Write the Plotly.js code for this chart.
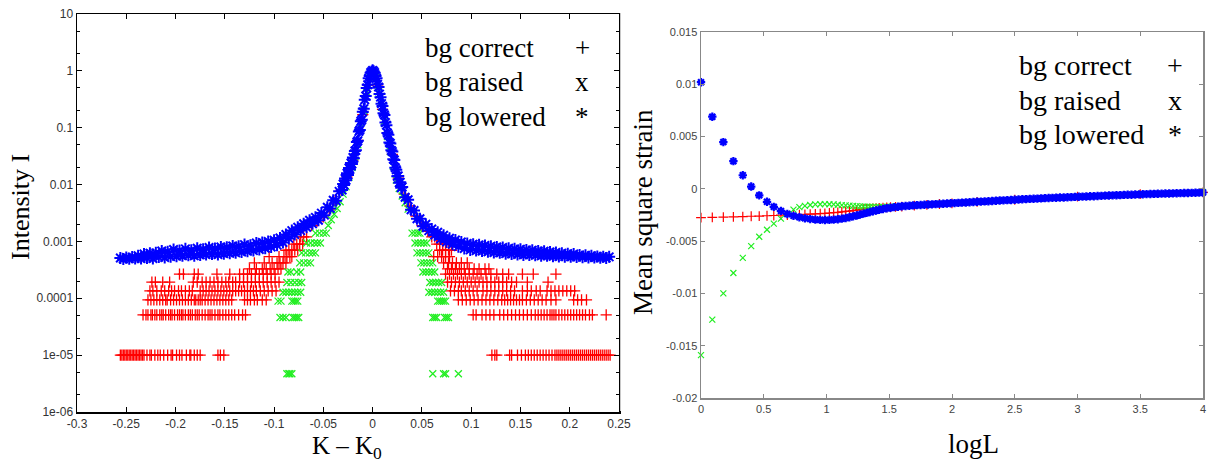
<!DOCTYPE html>
<html><head><meta charset="utf-8">
<script src="https://cdn.plot.ly/plotly-3.0.1.min.js"></script>
<style>html,body{margin:0;padding:0;background:#fff}</style>
</head><body><div id="chart" style="width:1215px;height:462px"></div>
<script>
// ---------- LEFT PANEL: Intensity vs K-K0 (log y) ----------
const leftXTickVals = [-0.3,-0.25,-0.2,-0.15,-0.1,-0.05,0,0.05,0.1,0.15,0.2,0.25];
const leftXTickText = ['-0.3','-0.25','-0.2','-0.15','-0.1','-0.05','0','0.05','0.1','0.15','0.2','0.25'];
const leftYTickVals = [10,1,0.1,0.01,0.001,0.0001,1e-5,1e-6];
const leftYTickText = ['10','1','0.1','0.01','0.001','0.0001','1e-05','1e-06'];
const leftYMinor = [5,2,0.5,0.2,0.05,0.02,0.005,0.002,5e-4,2e-4,5e-5,2e-5,5e-6,2e-6];

// bg lowered (*), blue
const blueKX = [
-0.256,-0.253,-0.250,-0.247,-0.244,-0.241,-0.238,-0.235,-0.232,-0.229,
-0.226,-0.223,-0.220,-0.217,-0.214,-0.211,-0.208,-0.205,-0.202,-0.199,
-0.196,-0.193,-0.190,-0.187,-0.184,-0.181,-0.178,-0.175,-0.172,-0.169,
-0.166,-0.163,-0.160,-0.157,-0.154,-0.151,-0.148,-0.145,-0.142,-0.139,
-0.136,-0.133,-0.130,-0.127,-0.124,-0.121,-0.118,-0.115,-0.112,-0.109,
-0.106,-0.103,-0.100,-0.097,-0.094,-0.091,-0.088,-0.085,-0.082,-0.079,
-0.076,-0.073,-0.070,-0.067,-0.064,-0.061,-0.058,-0.055,-0.052,-0.049,
-0.046,-0.043,-0.040,-0.037,-0.034,-0.031,
-0.030,-0.029,-0.028,-0.027,-0.026,-0.025,-0.024,-0.023,-0.022,-0.021,
-0.020,-0.019,-0.018,-0.017,-0.016,-0.015,-0.014,-0.013,-0.012,-0.011,
-0.010,-0.009,-0.008,-0.007,-0.006,-0.005,-0.004,-0.003,-0.002,-0.001,
0.000,
0.001,0.002,0.003,0.004,0.005,0.006,0.007,0.008,0.009,0.010,
0.011,0.012,0.013,0.014,0.015,0.016,0.017,0.018,0.019,0.020,
0.021,0.022,0.023,0.024,0.025,0.026,0.027,0.028,0.029,0.030,
0.033,0.036,0.039,0.042,0.045,0.048,0.051,0.054,0.057,0.060,
0.063,0.066,0.069,0.072,0.075,0.078,0.081,0.084,0.087,0.090,
0.093,0.096,0.099,0.102,0.105,0.108,0.111,0.114,0.117,0.120,
0.123,0.126,0.129,0.132,0.135,0.138,0.141,0.144,0.147,0.150,
0.153,0.156,0.159,0.162,0.165,0.168,0.171,0.174,0.177,0.180,
0.183,0.186,0.189,0.192,0.195,0.198,0.201,0.204,0.207,0.210,
0.213,0.216,0.219,0.222,0.225,0.228,0.231,0.234,0.237,0.240];
const blueKY = [
5.1e-4,4.9e-4,5.2e-4,4.95e-4,5.3e-4,5.0e-4,5.6e-4,5.0e-4,6.0e-4,5.1e-4,
6.2e-4,5.0e-4,6.3e-4,5.3e-4,6.8e-4,5.2e-4,6.6e-4,5.4e-4,7.2e-4,5.5e-4,
6.9e-4,5.6e-4,7.4e-4,5.7e-4,7.0e-4,5.6e-4,7.6e-4,5.8e-4,7.3e-4,5.9e-4,
7.8e-4,6.0e-4,7.5e-4,5.9e-4,8.0e-4,6.1e-4,7.9e-4,6.2e-4,8.3e-4,6.3e-4,
8.2e-4,6.5e-4,8.8e-4,6.7e-4,8.6e-4,6.9e-4,9.4e-4,7.2e-4,9.6e-4,7.6e-4,
1.0e-3,8.0e-4,1.05e-3,8.6e-4,1.15e-3,9.6e-4,1.32e-3,1.13e-3,1.55e-3,1.32e-3,
1.78e-3,1.55e-3,2.05e-3,1.78e-3,2.35e-3,2.05e-3,2.65e-3,2.35e-3,3.15e-3,2.9e-3,
4.0e-3,3.8e-3,5.3e-3,5.2e-3,7.6e-3,8.0e-3,
0.0102,0.0098,0.0128,0.0119,0.0158,0.0147,0.0195,0.0185,0.024,0.023,
0.030,0.029,0.039,0.040,0.056,0.059,0.086,0.091,0.13,0.138,
0.19,0.215,0.31,0.36,0.50,0.57,0.74,0.81,0.93,0.97,
1.02,
0.98,0.93,0.81,0.74,0.58,0.52,0.39,0.345,0.265,0.24,
0.18,0.168,0.123,0.111,0.081,0.075,0.055,0.053,0.040,0.038,
0.028,0.027,0.0198,0.0182,0.014,0.0142,0.0108,0.011,0.0088,0.0091,
0.0060,0.0054,0.0036,0.0035,0.0025,0.0025,0.00185,0.0020,0.00155,0.00165,
0.0013,0.00145,0.0011,0.00128,9.8e-4,1.14e-3,8.9e-4,1.06e-3,8.1e-4,9.8e-4,
7.5e-4,9.2e-4,7.1e-4,8.9e-4,6.9e-4,8.7e-4,6.8e-4,8.5e-4,6.6e-4,8.2e-4,
6.4e-4,8.0e-4,6.3e-4,7.8e-4,6.1e-4,7.6e-4,6.0e-4,7.4e-4,5.9e-4,7.3e-4,
5.8e-4,7.1e-4,5.8e-4,7.0e-4,5.7e-4,6.8e-4,5.6e-4,6.7e-4,5.6e-4,6.5e-4,
5.5e-4,6.4e-4,5.45e-4,6.2e-4,5.4e-4,6.1e-4,5.35e-4,6.0e-4,5.3e-4,5.8e-4,
5.25e-4,5.7e-4,5.2e-4,5.6e-4,5.2e-4,5.45e-4,5.15e-4,5.4e-4,5.1e-4,5.35e-4];

// bg correct (+), red: quantised intensity levels and the K positions found on each level
const redLevels = [1e-5, 5.1e-5, 9.4e-5, 1.35e-4, 1.93e-4, 2.66e-4, 3.3e-4, 4.2e-4, 5.4e-4, 7e-4, 9e-4, 1.2e-3];
const redLevelX = [
 [-0.256,-0.2545,-0.253,-0.2515,-0.25,-0.2485,-0.247,-0.2455,-0.244,-0.2425,-0.241,-0.2395,-0.238,-0.2365,-0.235,-0.2335,-0.232,-0.229,-0.226,-0.2245,-0.221,-0.218,-0.2155,-0.212,-0.208,-0.2045,-0.203,-0.199,-0.196,-0.1935,-0.189,-0.1855,-0.1845,-0.181,-0.178,-0.175,-0.157,-0.1545,-0.151,
  0.121,0.124,0.126,0.139,0.141,0.147,0.151,0.155,0.158,0.161,0.164,0.167,0.170,0.173,0.176,0.179,0.182,0.185,0.187,0.189,0.191,0.193,0.195,0.197,0.199,0.201,0.203,0.205,0.207,0.209,0.211,0.213,0.215,0.217,0.219,0.221,0.223,0.225,0.227,0.229,0.231,0.233,0.235,0.237,0.239,0.241],
 [-0.233,-0.230,-0.228,-0.225,-0.2235,-0.221,-0.219,-0.216,-0.214,-0.2125,-0.210,-0.207,-0.205,-0.2035,-0.201,-0.198,-0.196,-0.194,-0.1925,-0.190,-0.187,-0.185,-0.183,-0.180,-0.178,-0.176,-0.173,-0.170,-0.167,-0.165,-0.163,-0.160,-0.157,-0.155,-0.152,-0.149,-0.146,-0.143,-0.140,-0.136,-0.132,-0.129,
  0.102,0.105,0.111,0.115,0.119,0.123,0.129,0.133,0.137,0.141,0.145,0.149,0.153,0.157,0.161,0.165,0.168,0.171,0.174,0.177,0.180,0.182,0.184,0.186,0.189,0.192,0.195,0.198,0.201,0.204,0.207,0.210,0.213,0.216,0.220,0.223,0.237],
 [-0.228,-0.225,-0.222,-0.219,-0.216,-0.213,-0.210,-0.2085,-0.205,-0.202,-0.199,-0.196,-0.193,-0.190,-0.187,-0.184,-0.181,-0.1795,-0.177,-0.175,-0.173,-0.170,-0.167,-0.164,-0.161,-0.158,-0.155,-0.152,-0.149,-0.146,-0.143,-0.130,-0.127,-0.124,-0.120,-0.117,-0.112,-0.108,
  0.087,0.091,0.095,0.099,0.103,0.107,0.111,0.115,0.119,0.123,0.127,0.131,0.134,0.137,0.140,0.143,0.146,0.149,0.152,0.156,0.160,0.164,0.168,0.172,0.176,0.181,0.186,0.204,0.208,0.212,0.217],
 [-0.226,-0.223,-0.219,-0.2145,-0.211,-0.207,-0.204,-0.201,-0.197,-0.194,-0.190,-0.186,-0.183,-0.175,-0.172,-0.169,-0.166,-0.163,-0.160,-0.157,-0.154,-0.151,-0.148,-0.145,-0.142,-0.139,-0.136,-0.133,-0.130,-0.127,-0.124,-0.121,-0.118,-0.114,-0.110,-0.106,-0.102,-0.098,
  0.079,0.083,0.087,0.090,0.094,0.098,0.102,0.106,0.112,0.116,0.120,0.124,0.128,0.132,0.136,0.140,0.144,0.152,0.157,0.161,0.166,0.170,0.177,0.181,0.185,0.189,0.193,0.197,0.201,0.205],
 [-0.224,-0.2205,-0.213,-0.206,-0.182,-0.178,-0.173,-0.169,-0.165,-0.161,-0.157,-0.153,-0.149,-0.146,-0.142,-0.139,-0.135,-0.131,-0.127,-0.123,-0.119,-0.115,-0.111,-0.107,-0.103,-0.099,-0.095,
  0.076,0.080,0.084,0.088,0.092,0.096,0.100,0.104,0.108,0.112,0.116,0.120,0.124,0.128,0.132,0.136,0.141,0.146,0.157,0.178],
 [-0.196,-0.192,-0.181,-0.177,-0.158,-0.145,-0.135,-0.131,-0.127,-0.123,-0.119,-0.115,-0.111,-0.107,-0.103,-0.099,
  0.074,0.078,0.082,0.086,0.090,0.094,0.098,0.102,0.106,0.110,0.115,0.120,0.126,0.132,0.138,0.152,0.163,0.186],
 [-0.125,-0.118,-0.112,-0.108,-0.104,-0.100,-0.096,-0.093, 0.076,0.080,0.084,0.088,0.093,0.098,0.103,0.108,0.114,0.118],
 [-0.120,-0.110,-0.102,-0.097,-0.094,-0.091,-0.088, 0.072,0.077,0.081,0.085,0.090,0.096],
 [-0.105,-0.095,-0.090,-0.087,-0.084,-0.082, 0.062,0.066,0.070,0.074,0.078],
 [-0.088,-0.085,-0.082,-0.079,-0.076, 0.068,0.071,0.074,0.077,0.080],
 [-0.080,-0.077,-0.074,-0.071, 0.065,0.068,0.071,0.074],
 [-0.073,-0.070,-0.067, 0.060,0.063,0.066]];
const redPeakX = [-0.062,-0.056,-0.05,-0.044,-0.038,-0.032,-0.026,-0.02,-0.015,-0.01,-0.005,0,0.005,0.01,0.015,0.02,0.026,0.032,0.038,0.044,0.05,0.056];
const redPeakY = [1.9e-3,2.3e-3,2.7e-3,3.6e-3,5.2e-3,8e-3,0.0135,0.027,0.06,0.17,0.56,0.98,0.57,0.21,0.08,0.034,0.013,0.0068,0.0042,0.0028,0.0019,0.0015];

// bg raised (x), green
const greenLevels = [4.7e-6, 4.6e-5, 8.9e-5, 1.28e-4, 1.9e-4, 2.9e-4, 4.2e-4, 6.3e-4, 9.4e-4, 1.4e-3];
const greenLevelX = [
 [-0.087,-0.085,-0.084,-0.082, 0.061,0.072,0.074,0.087],
 [-0.094,-0.091,-0.088,-0.081,-0.079,-0.077,-0.075, 0.061,0.063,0.065,0.073,0.075,0.077],
 [-0.096,-0.093,-0.082,-0.080,-0.078,-0.076, 0.066,0.068,0.070,0.072,0.074],
 [-0.091,-0.088,-0.085,-0.082,-0.079,-0.076,-0.073, 0.057,0.060,0.063,0.066,0.069,0.072],
 [-0.087,-0.083,-0.079,-0.075,-0.072, 0.058,0.061,0.064,0.067,0.070],
 [-0.086,-0.083,-0.077,-0.073, 0.051,0.054,0.057,0.060,0.063],
 [-0.074,-0.070,-0.066,-0.063, 0.049,0.052,0.055,0.058,0.061],
 [-0.072,-0.068,-0.064,-0.061,-0.058, 0.045,0.048,0.051,0.054,0.057],
 [-0.067,-0.063,-0.059,-0.056,-0.053, 0.043,0.046,0.049,0.052,0.055],
 [-0.058,-0.054,-0.050,-0.047, 0.040,0.043,0.046,0.048]];
const greenPeakX = [-0.045,-0.042,-0.039,-0.036,-0.033,-0.030,-0.027,-0.024,-0.021,-0.018,-0.015,-0.012,-0.009,-0.006,-0.003,0,0.003,0.006,0.009,0.012,0.015,0.018,0.021,0.024,0.027,0.030,0.033,0.036];
const greenPeakY = [1.9e-3,2.4e-3,3.0e-3,3.8e-3,5.0e-3,6.8e-3,9.2e-3,0.0135,0.02,0.031,0.05,0.1,0.2,0.42,0.78,0.95,0.78,0.43,0.23,0.13,0.07,0.038,0.021,0.012,0.0085,0.0063,0.0048,0.0037];

// ---------- RIGHT PANEL: Mean square strain vs logL ----------
const rightXTickVals = [0,0.5,1,1.5,2,2.5,3,3.5,4];
const rightXTickText = ['0','0.5','1','1.5','2','2.5','3','3.5','4'];
const rightYTickVals = [0.015,0.01,0.005,0,-0.005,-0.01,-0.015,-0.02];
const rightYTickText = ['0.015','0.01','0.005','0','-0.005','-0.01','-0.015','-0.02'];

const strainX = [0,0.09,0.178,0.258,0.333,0.400,0.464,0.526,0.580,0.637,0.688,0.737,0.784,0.828,0.870,0.911,0.950,0.987,1.023,1.057,1.090,1.122,1.153,1.183,1.212,1.240,1.267,1.294,1.320,1.345,1.370,1.395,1.42,1.45,1.48,1.51,1.55,1.6,1.7,1.8,1.9,2.0,2.2,2.5,3.0,3.5,4.0];
const redStrain = [-0.00275,-0.00273,-0.00271,-0.00268,-0.00265,-0.00262,-0.0026,-0.00257,-0.00255,-0.00252,-0.0025,-0.00248,-0.00246,-0.00244,-0.00242,-0.0024,-0.00237,-0.00234,-0.00231,-0.00228,-0.00224,-0.0022,-0.00216,-0.00212,-0.00207,-0.00203,-0.00199,-0.00195,-0.00192,-0.00189,-0.00186,-0.00184,-0.00182,-0.0018,-0.00178,-0.00176,-0.00173,-0.00169,-0.00161,-0.00153,-0.00145,-0.00138,-0.00124,-0.00104,-0.00075,-0.0005,-0.00033];
const greenStrain = [-0.0159,-0.0125,-0.0100,-0.00805,-0.0066,-0.00547,-0.00458,-0.00391,-0.00332,-0.00284,-0.00238,-0.00198,-0.00175,-0.00162,-0.00154,-0.00149,-0.00147,-0.00146,-0.00147,-0.00149,-0.00152,-0.00155,-0.00158,-0.0016,-0.00163,-0.00165,-0.00167,-0.00169,-0.0017,-0.00171,-0.00172,-0.00173,-0.00173,-0.00172,-0.00171,-0.0017,-0.00168,-0.00165,-0.00157,-0.00149,-0.00142,-0.00136,-0.00123,-0.00103,-0.00074,-0.0005,-0.00032];
const blueStrainX = [0,0.09,0.178,0.258,0.333,0.400,0.464,0.526,0.580,0.637,0.688,0.737,0.784,0.828,0.870,0.911,0.950,0.987,1.023,1.057,1.090,1.122,1.153,1.183,1.212,1.240,1.267,1.294,1.320,1.345,1.370,1.395,
1.42,1.45,1.48,1.51,1.54,1.57,1.60,1.63,1.66,1.69,1.72,1.75,1.78,1.81,1.84,1.87,1.90,1.93,1.96,1.99,
2.02,2.05,2.08,2.11,2.14,2.17,2.20,2.23,2.26,2.29,2.32,2.35,2.38,2.41,2.44,2.47,2.50,2.53,2.56,2.59,
2.62,2.65,2.68,2.71,2.74,2.77,2.80,2.83,2.86,2.89,2.92,2.95,2.98,3.01,3.04,3.07,3.10,3.13,3.16,3.19,
3.22,3.25,3.28,3.31,3.34,3.37,3.40,3.43,3.46,3.49,3.52,3.55,3.58,3.61,3.64,3.67,3.70,3.73,3.76,3.79,
3.82,3.85,3.88,3.91,3.94,3.97,4.00];
const blueStrain = [0.0102,0.0069,0.00447,0.00265,0.0013,0.00022,-0.00062,-0.00124,-0.00172,-0.00211,-0.0024,-0.00258,-0.00272,-0.00282,-0.00289,-0.00294,-0.00297,-0.00298,-0.00297,-0.00294,-0.0029,-0.00285,-0.00278,-0.00271,-0.00263,-0.00255,-0.00246,-0.00237,-0.0023,-0.00222,-0.00214,-0.00207,
-0.002,-0.00193,-0.00186,-0.0018,-0.00175,-0.00171,-0.00167,-0.00164,-0.00161,-0.00158,-0.00156,-0.00154,-0.00152,-0.0015,-0.00148,-0.00146,-0.00144,-0.00142,-0.0014,-0.00138,
-0.00136,-0.00134,-0.00132,-0.0013,-0.00128,-0.00126,-0.00124,-0.00122,-0.0012,-0.00118,-0.00116,-0.00114,-0.00112,-0.0011,-0.00108,-0.00106,-0.00104,-0.00102,-0.001,-0.00098,
-0.00096,-0.00094,-0.00093,-0.00091,-0.00089,-0.00088,-0.00086,-0.00085,-0.00083,-0.00082,-0.0008,-0.00079,-0.00077,-0.00076,-0.00074,-0.00073,-0.00071,-0.0007,-0.00068,-0.00067,
-0.00065,-0.00064,-0.00062,-0.00061,-0.0006,-0.00058,-0.00057,-0.00056,-0.00054,-0.00053,-0.00052,-0.0005,-0.00049,-0.00048,-0.00047,-0.00046,-0.00045,-0.00044,-0.00043,-0.00042,
-0.00041,-0.0004,-0.00039,-0.00038,-0.00037,-0.00036,-0.00035];

const legendLabels = ['bg correct','bg raised','bg lowered'];
const legendSymbols = ['+','x','*'];

// ---------- build traces ----------
function flattenRows(levels, rows){
  const xs=[], ys=[];
  rows.forEach((row,i)=>row.forEach(v=>{xs.push(v); ys.push(levels[i]);}));
  return {xs, ys};
}
const redRows = flattenRows(redLevels, redLevelX);
const greenRows = flattenRows(greenLevels, greenLevelX);

const RED='#ff0000', GREEN='#22ee22', BLUE='#0000ff';
const traces = [
  {x: redRows.xs.concat(redPeakX), y: redRows.ys.concat(redPeakY), type:'scatter', mode:'markers', xaxis:'x', yaxis:'y',
   marker:{symbol:'cross-thin-open', size:8, color:RED, line:{color:RED, width:1.3}}},
  {x: greenRows.xs.concat(greenPeakX), y: greenRows.ys.concat(greenPeakY), type:'scatter', mode:'markers', xaxis:'x', yaxis:'y',
   marker:{symbol:'x-thin-open', size:7, color:GREEN, line:{color:GREEN, width:1.3}}},
  {x: blueKX, y: blueKY, type:'scatter', mode:'markers', xaxis:'x', yaxis:'y',
   marker:{symbol:'asterisk-open', size:10, color:BLUE, line:{color:BLUE, width:2}}},
  {x: strainX, y: redStrain, type:'scatter', mode:'markers', xaxis:'x2', yaxis:'y2', cliponaxis:false,
   marker:{symbol:'cross-thin-open', size:7, color:RED, line:{color:RED, width:1.2}}},
  {x: strainX, y: greenStrain, type:'scatter', mode:'markers', xaxis:'x2', yaxis:'y2', cliponaxis:false,
   marker:{symbol:'x-thin-open', size:6, color:GREEN, line:{color:GREEN, width:1.2}}},
  {x: blueStrainX, y: blueStrain, type:'scatter', mode:'markers', xaxis:'x2', yaxis:'y2', cliponaxis:false,
   marker:{symbol:'asterisk-open', size:7, color:BLUE, line:{color:BLUE, width:2.2}}}
];

const W=1215, H=462;
const px = v => v/W, py = v => 1 - v/H;
const tickFont = {family:'"Liberation Sans", Arial, sans-serif', size:12, color:'#333'};
const tickFont2 = {family:'"Liberation Sans", Arial, sans-serif', size:11, color:'#444'};
const serif = '"Liberation Serif", "Times New Roman", serif';

const annotations = [];
function ann(text, x, y, size, opts){
  annotations.push(Object.assign({text, x:px(x), y:py(y), xref:'paper', yref:'paper', showarrow:false,
    xanchor:'center', yanchor:'middle', font:{family:serif, size, color:'#000'}}, opts||{}));
}
// left legend
[48,82,117].forEach((yy,i)=>{ ann(legendLabels[i], 423, yy, 27, {xanchor:'left'}); ann(legendSymbols[i], 582, yy, 27); });
// right legend
[66,100,135].forEach((yy,i)=>{ ann(legendLabels[i], 1017, yy, 28, {xanchor:'left'}); ann(legendSymbols[i], 1175, yy, 28); });
// axis titles
ann('Intensity I', 20, 207, 26, {textangle:-90});
ann('K – K<sub>0</sub>', 347, 447, 25);
ann('Mean square strain', 643, 212, 27, {textangle:-90});
ann('logL', 974, 444, 27);

const layout = {
  width:W, height:H, margin:{l:0,r:0,t:0,b:0}, paper_bgcolor:'#fff', plot_bgcolor:'#fff', showlegend:false,
  xaxis:{domain:[77/W, 619/W], range:[-0.3,0.25], anchor:'y', tickmode:'array', tickvals:leftXTickVals, ticktext:leftXTickText,
    ticks:'inside', ticklen:5, tickcolor:'#000', showline:true, linecolor:'#000', linewidth:1.5, mirror:'ticks',
    showgrid:false, zeroline:false, tickfont:tickFont},
  yaxis:{domain:[1-412/H, 1-14/H], type:'log', range:[-6,1], anchor:'x', tickmode:'array', tickvals:leftYTickVals, ticktext:leftYTickText,
    ticks:'inside', ticklen:5, tickcolor:'#000', showline:true, linecolor:'#000', linewidth:1.5, mirror:'ticks',
    showgrid:false, zeroline:false, tickfont:tickFont,
    minor:{tickmode:'array', tickvals:leftYMinor, ticks:'inside', ticklen:3, tickcolor:'#000', showgrid:false}},
  xaxis2:{domain:[701/W, 1203/W], range:[0,4], anchor:'y2', tickmode:'array', tickvals:rightXTickVals, ticktext:rightXTickText,
    ticks:'inside', ticklen:4, tickcolor:'#888', showline:true, linecolor:'#888', linewidth:1.5, mirror:'ticks',
    showgrid:false, zeroline:false, tickfont:tickFont2},
  yaxis2:{domain:[1-398/H, 1-32/H], range:[-0.02,0.015], anchor:'x2', tickmode:'array', tickvals:rightYTickVals, ticktext:rightYTickText,
    ticks:'inside', ticklen:4, tickcolor:'#888', showline:true, linecolor:'#888', linewidth:1.5, mirror:'ticks',
    showgrid:false, zeroline:false, tickfont:tickFont2},
  annotations,
  shapes:[{type:'line', xref:'paper', yref:'paper', x0:px(620.5), x1:px(620.5), y0:py(13), y1:py(411), line:{color:'#c8c8c8', width:1}}]
};
Plotly.newPlot('chart', traces, layout, {displayModeBar:false, staticPlot:true});
</script></body></html>
